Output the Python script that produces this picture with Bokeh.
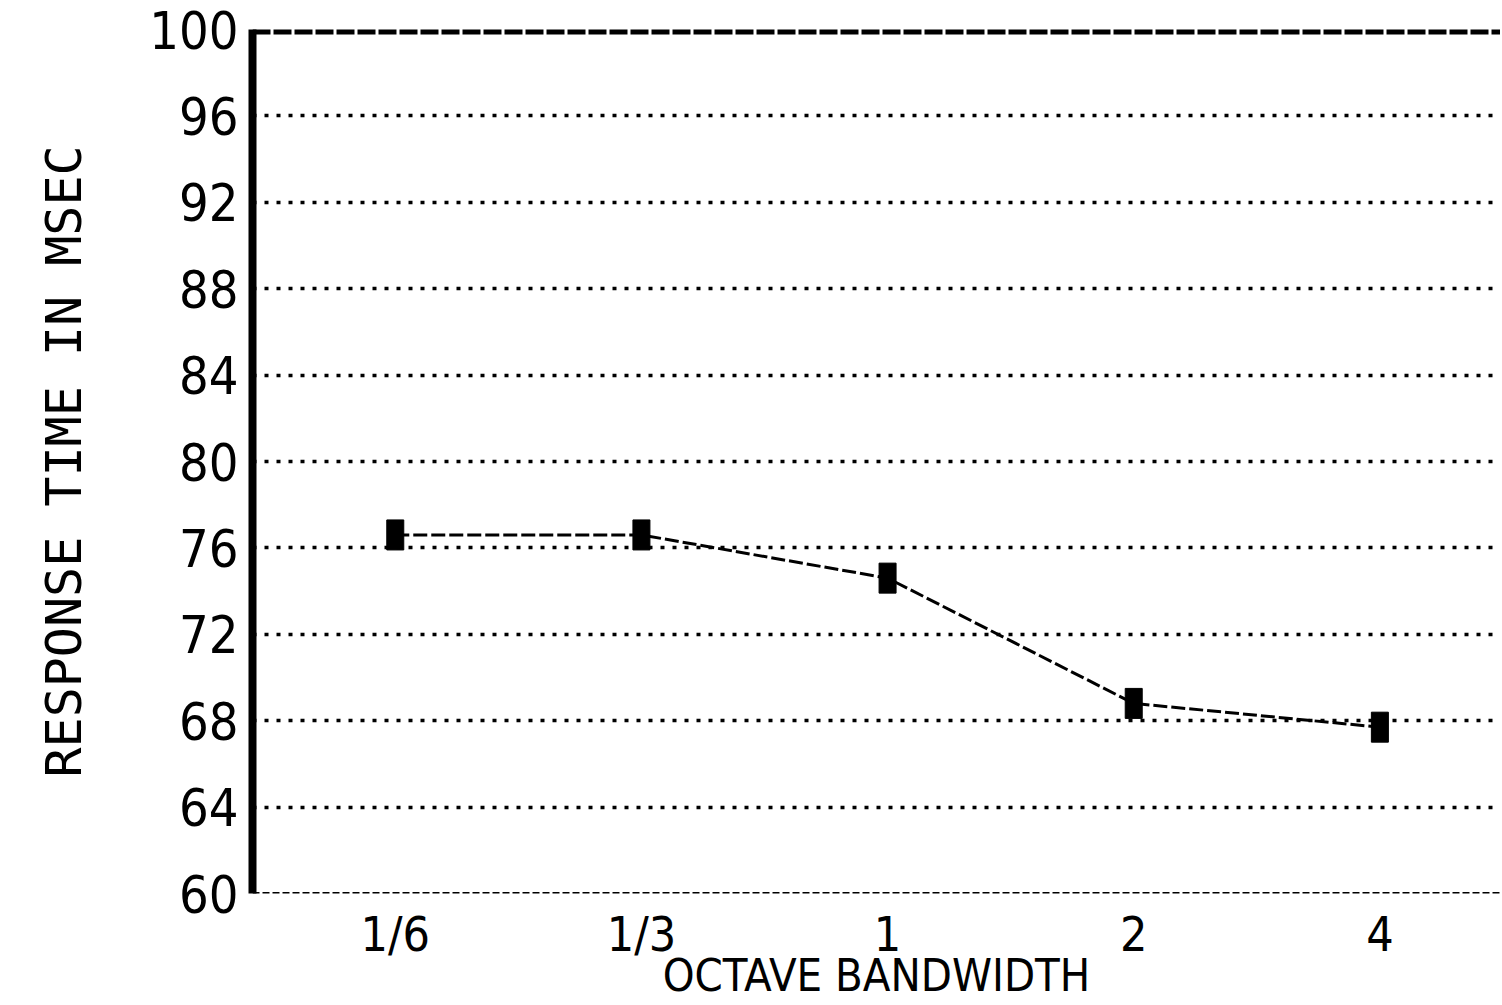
from bokeh.plotting import figure
from bokeh.models import Range1d, FixedTicker, Span
from bokeh.embed import file_html
from bokeh.resources import INLINE

# ---- data ----
categories = ["1/6", "1/3", "1", "2", "4"]
response_msec = [76.6, 76.6, 74.6, 68.8, 67.7]
y_ticks = [60, 64, 68, 72, 76, 80, 84, 88, 92, 96, 100]
grid_levels = [64, 68, 72, 76, 80, 84, 88, 92, 96]
x_title = "OCTAVE BANDWIDTH"
y_title = "RESPONSE TIME IN MSEC"

x_pos = list(range(1, len(categories) + 1))

NARROW = "'Liberation Sans Narrow', 'DejaVu Sans Condensed', 'Arial Narrow', sans-serif"
MONO = "'DejaVu Sans Mono', 'Liberation Mono', monospace"

p = figure(width=1500, height=1005, output_backend="svg", toolbar_location=None,
           x_range=Range1d(0.42, 5.49), y_range=Range1d(y_ticks[0], y_ticks[-1]),
           min_border_left=252, min_border_right=0, min_border_top=29,
           min_border_bottom=112)
p.outline_line_color = None
p.background_fill_color = "white"
p.border_fill_color = "white"

# grid
p.xgrid.visible = False
p.ygrid.ticker = FixedTicker(ticks=grid_levels)
p.ygrid.grid_line_color = "black"
p.ygrid.grid_line_width = 3.5
p.ygrid.grid_line_dash = "4 8"

# frame edges: heavy top, light dashed bottom
p.add_layout(Span(location=y_ticks[-1], dimension="width", line_color="black",
                  line_width=10, line_dash="18 3"))
p.add_layout(Span(location=y_ticks[0], dimension="width", line_color="black",
                  line_width=3, line_dash="7 3"))

# data line + markers
p.line(x_pos, response_msec, line_color="black", line_width=3, line_dash="14 4")
p.rect(x_pos, response_msec, width=17, height=30, width_units="screen",
       height_units="screen", fill_color="black", line_color="black")

# x axis
xa = p.xaxis[0]
xa.ticker = FixedTicker(ticks=x_pos)
xa.major_label_overrides = {i: c for i, c in zip(x_pos, categories)}
xa.axis_line_color = None
xa.major_tick_line_color = None
xa.minor_tick_line_color = None
xa.major_label_text_font = NARROW
xa.major_label_text_font_size = "48px"
xa.major_label_text_color = "black"
xa.major_label_standoff = 6
xa.axis_label = x_title
xa.axis_label_text_font = NARROW
xa.axis_label_text_font_size = "45px"
xa.axis_label_text_font_style = "normal"
xa.axis_label_text_color = "black"
xa.axis_label_standoff = -16

# y axis
ya = p.yaxis[0]
ya.ticker = FixedTicker(ticks=y_ticks)
ya.axis_line_color = "black"
ya.axis_line_width = 8
ya.major_tick_line_color = None
ya.minor_tick_line_color = None
ya.major_label_text_font = NARROW
ya.major_label_text_font_size = "52px"
ya.major_label_text_color = "black"
ya.major_label_standoff = 8
ya.axis_label = y_title
ya.axis_label_text_font = MONO
ya.axis_label_text_font_size = "50px"
ya.axis_label_text_font_style = "normal"
ya.axis_label_text_color = "black"
ya.axis_label_standoff = 53

open("out.html", "w").write(file_html(p, INLINE))
